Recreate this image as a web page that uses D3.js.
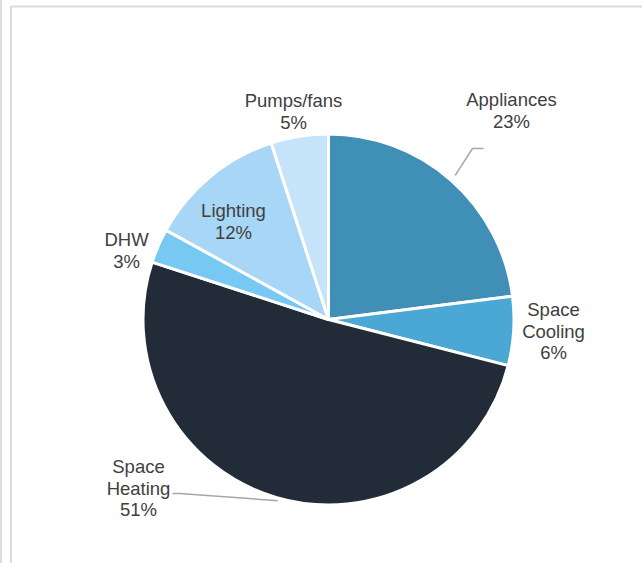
<!DOCTYPE html>
<html>
<head>
<meta charset="utf-8">
<script src="https://cdn.jsdelivr.net/npm/d3@7"></script>
<style>
  html, body { margin: 0; padding: 0; background: #fff; }
  svg { display: block; }
</style>
</head>
<body>
<svg id="chart" width="642" height="563"></svg>
<script>
// End-use shares of energy consumption
const categories = ["Appliances", "Space Cooling", "Space Heating", "DHW", "Lighting", "Pumps/fans"];
const shares = [23, 6, 51, 3, 12, 5];
const colors = ["#3f8fb6", "#4ba7d4", "#222b38", "#77c8f3", "#a8d6f6", "#c5e3f9"];
// Label text lines for each slice
const labelLines = [
  ["Appliances", "23%"],
  ["Space", "Cooling", "6%"],
  ["Space", "Heating", "51%"],
  ["DHW", "3%"],
  ["Lighting", "12%"],
  ["Pumps/fans", "5%"]
];

const W = 642, H = 563;
const cx = 328.5, cy = 319.5, R = 185.5;

const svg = d3.select("#chart");

// Panel frame
svg.append("rect").attr("x", 0).attr("y", 0).attr("width", 2).attr("height", H).attr("fill", "#dcdcdc");
svg.append("line").attr("x1", 11).attr("y1", 6.5).attr("x2", W).attr("y2", 6.5)
  .attr("stroke", "#dcdcdc").attr("stroke-width", 2);
svg.append("line").attr("x1", 11).attr("y1", 6).attr("x2", 11).attr("y2", H)
  .attr("stroke", "#dcdcdc").attr("stroke-width", 2);

const data = categories.map((c, i) => ({ name: c, value: shares[i], color: colors[i], lines: labelLines[i] }));

const pie = d3.pie().value(d => d.value).sort(null);
const arcs = pie(data);
const arc = d3.arc().innerRadius(0).outerRadius(R);

const g = svg.append("g").attr("transform", `translate(${cx},${cy})`);

g.selectAll("path.slice")
  .data(arcs)
  .join("path")
  .attr("class", "slice")
  .attr("d", arc)
  .attr("fill", d => d.data.color)
  .attr("stroke", "#fff")
  .attr("stroke-width", 3)
  .attr("stroke-linejoin", "round");

// Label anchors (centre of text block, relative to pie centre) and leader lines
const labelPos = {
  "Appliances":    { x: 183, y: -209 },
  "Space Cooling": { x: 225, y: 12 },
  "Space Heating": { x: -190, y: 169 },
  "DHW":           { x: -202, y: -69 },
  "Lighting":      { x: -95, y: -98 },
  "Pumps/fans":    { x: -35, y: -208 }
};

const lineH = 21.5;
const fontSize = 18.5;

arcs.forEach(a => {
  const p = labelPos[a.data.name];
  const n = a.data.lines.length;
  const t = g.append("text")
    .attr("text-anchor", "middle")
    .attr("font-family", "'Liberation Sans', Arial, sans-serif")
    .attr("font-size", fontSize)
    .attr("fill", "#404040");
  a.data.lines.forEach((ln, i) => {
    t.append("tspan")
      .attr("x", p.x)
      .attr("y", p.y + (i - (n - 1) / 2) * lineH + fontSize * 0.35)
      .text(ln);
  });
});

// Leader lines from slice edge to label
const mid = a => (a.startAngle + a.endAngle) / 2;
const edge = a => [R * Math.sin(mid(a)), -R * Math.cos(mid(a))];

const leader = d3.line();
const appl = arcs[0];
const e0 = edge(appl);
g.append("path")
  .attr("d", leader([[e0[0] + 4, e0[1] - 5], [144, -171], [155, -171]]))
  .attr("fill", "none").attr("stroke", "#a6a6a6").attr("stroke-width", 1.5);

const heat = arcs[2];
const e2 = edge(heat);
g.append("path")
  .attr("d", leader([[e2[0] + 1, e2[1] + 3], [-149, 174], [-156, 174]]))
  .attr("fill", "none").attr("stroke", "#a6a6a6").attr("stroke-width", 1.5);
</script>
</body>
</html>
